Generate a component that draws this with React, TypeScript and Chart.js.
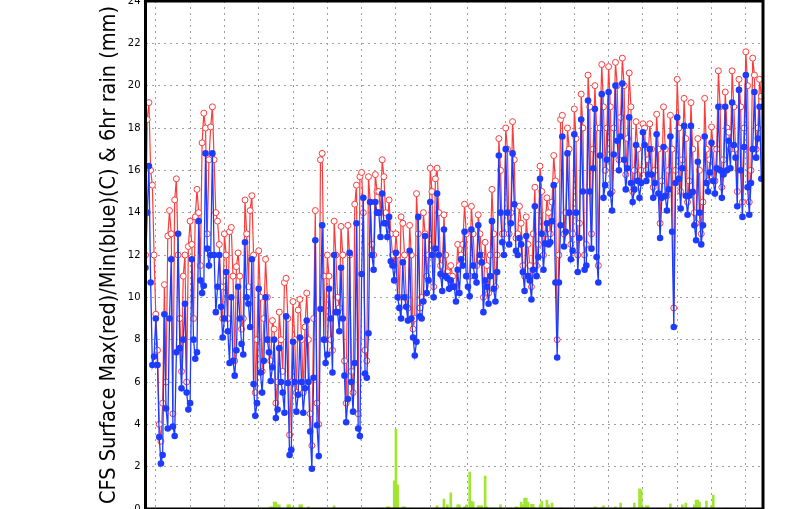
import React, { useEffect, useRef } from "react";
import { Chart, registerables } from "chart.js";

Chart.register(...registerables);

// 6-hourly values, 4 per day, 90 days
const maxTemp: number[] = [
  12.0, 18.4, 19.2, 16.0, 15.3, 12.0, 9.2, 7.5,
  4.0, 3.2, 5.0, 10.6, 6.0, 12.9, 14.1, 13.0,
  4.5, 14.6, 15.6, 12.0, 9.0, 6.5, 11.0, 12.0,
  6.0, 12.4, 13.6, 12.5, 9.0, 13.8, 15.1, 14.0,
  11.5, 17.3, 18.7, 18.0, 13.0, 16.5, 18.05, 19.0,
  16.5, 14.0, 13.6, 12.5, 10.5, 9.0, 13.0, 12.0,
  9.0, 13.1, 13.3, 11.0, 7.0, 11.45, 12.1, 11.0,
  8.5, 9.0, 14.6, 13.0, 10.5, 14.1, 14.8, 12.0,
  5.5, 8.0, 12.2, 10.0, 6.5, 9.0, 11.8, 10.0,
  8.0, 7.0, 8.9, 8.5, 5.0, 6.0, 9.3, 8.0,
  6.5, 10.7, 10.9, 9.0, 3.5, 6.0, 9.8, 8.0,
  5.5, 9.4, 9.9, 8.0, 5.5, 8.6, 10.2, 8.0,
  4.5, 3.0, 9.0, 14.1, 5.0, 4.0, 16.5, 16.8,
  11.0, 8.0, 12.0, 11.0, 8.0, 7.5, 13.6, 12.0,
  10.0, 9.5, 13.35, 12.0, 7.0, 5.0, 13.4, 12.0,
  6.5, 5.5, 14.4, 15.3, 4.5, 15.7, 15.9, 14.0,
  7.5, 7.0, 15.7, 14.5, 12.5, 12.0, 15.8, 15.0,
  15.0, 14.0, 16.5, 15.7, 14.0, 13.5, 14.6, 13.0,
  12.0, 11.5, 13.0, 12.0, 10.0, 13.8, 13.5, 12.0,
  10.0, 9.5, 13.4, 12.0, 8.5, 9.0, 14.9, 13.0,
  9.5, 10.0, 14.0, 13.0, 11.0, 12.0, 16.1, 15.0,
  10.5, 15.6, 16.1, 14.0, 11.5, 11.0, 13.9, 12.0,
  11.2, 11.0, 11.5, 11.0, 10.5, 10.5, 12.5, 11.5,
  12.0, 12.5, 14.4, 13.0, 11.0, 11.0, 14.3, 13.0,
  11.5, 11.5, 13.9, 13.0, 12.0, 10.0, 12.6, 11.5,
  10.2, 12.0, 15.1, 13.0, 10.5, 12.0, 17.5, 16.0,
  13.0, 13.0, 18.0, 17.0, 13.0, 14.0, 18.3, 16.5,
  12.8, 13.0, 14.3, 13.5, 11.5, 11.0, 13.8, 12.5,
  11.5, 10.5, 13.0, 15.2, 11.5, 12.5, 16.2, 15.0,
  12.0, 13.0, 14.7, 14.0, 13.0, 14.5, 16.7, 15.5,
  8.0, 12.0, 18.4, 18.6, 13.0, 14.0, 18.0, 17.0,
  12.5, 13.0, 18.9, 17.5, 12.0, 13.5, 19.6, 18.0,
  12.0, 12.5, 20.5, 19.0, 13.0, 17.0, 20.0, 18.0,
  11.5, 18.0, 21.0, 19.0, 16.0, 18.0, 20.9, 19.0,
  15.0, 18.0, 21.1, 20.0, 16.5, 18.5, 21.3, 20.0,
  15.8, 17.5, 20.6, 19.0, 15.0, 16.0, 18.3, 17.0,
  15.5, 16.0, 18.2, 18.0, 16.0, 16.5, 18.2, 17.0,
  15.2, 16.0, 18.65, 17.0, 13.5, 15.5, 19.0, 17.0,
  14.8, 16.0, 18.6, 17.0, 9.5, 16.0, 20.3, 18.0,
  15.0, 16.5, 19.4, 17.5, 14.5, 15.5, 19.2, 17.0,
  14.0, 13.5, 17.5, 16.0, 13.0, 14.5, 19.4, 17.0,
  15.5, 16.5, 18.05, 17.0, 15.5, 17.0, 20.7, 19.0,
  15.2, 16.5, 19.7, 18.0, 17.8, 17.0, 20.7, 19.0,
  17.0, 15.0, 20.3, 19.0, 14.5, 18.0, 21.6, 20.0,
  14.5, 16.0, 21.3, 20.5, 17.0, 18.0, 20.3, 19.5,
];

const minTemp: number[] = [
  11.4, 14.0, 16.2, 10.7, 6.8, 7.2, 9.0, 6.8,
  3.4, 2.15, 2.55, 9.2, 4.75, 3.8, 9.0, 11.8,
  3.9, 3.45, 7.4, 13.0, 7.6, 5.7, 8.0, 9.7,
  5.5, 4.7, 5.0, 11.8, 8.0, 7.1, 7.4, 13.6,
  10.8, 10.2, 10.55, 16.8, 12.3, 11.5, 12.0, 16.8,
  12.0, 9.3, 10.5, 12.0, 9.55, 8.1, 9.0, 11.2,
  8.4, 6.9, 10.0, 7.0, 6.3, 7.5, 10.5, 9.0,
  7.8, 7.3, 12.6, 10.0, 9.7, 8.6, 11.8, 5.9,
  4.4, 5.0, 10.4, 6.45, 5.5, 7.0, 10.0, 8.0,
  7.4, 6.05, 6.7, 8.0, 4.3, 4.7, 7.6, 6.0,
  5.5, 4.55, 9.1, 5.95, 2.55, 2.8, 7.9, 6.0,
  4.6, 5.4, 8.1, 6.0, 4.55, 5.7, 8.9, 6.0,
  3.66, 1.9, 6.2, 12.7, 3.96, 2.5, 9.45, 13.4,
  8.0, 6.9, 7.3, 10.4, 9.0, 6.45, 12.0, 9.3,
  9.3, 8.4, 11.4, 9.0, 6.3, 4.1, 5.2, 12.1,
  6.0, 4.6, 6.9, 13.5, 3.8, 3.45, 11.1, 14.7,
  6.4, 6.2, 8.3, 14.5, 12.0, 11.3, 14.5, 14.0,
  14.0, 12.85, 14.9, 13.5, 13.5, 12.85, 13.8, 11.7,
  11.5, 10.8, 12.1, 10.0, 9.5, 9.0, 11.65, 10.0,
  9.55, 8.9, 12.2, 9.0, 8.1, 7.25, 7.9, 13.8,
  9.1, 9.0, 9.8, 12.9, 10.2, 10.8, 14.5, 12.0,
  10.0, 12.3, 14.9, 12.0, 11.1, 10.3, 13.2, 11.0,
  10.9, 10.4, 10.8, 10.5, 10.5, 9.8, 11.3, 10.2,
  11.8, 11.5, 13.1, 11.0, 10.5, 10.05, 13.2, 11.5,
  11.0, 10.7, 13.4, 12.0, 11.65, 9.3, 10.8, 10.5,
  9.7, 11.0, 13.6, 10.4, 9.8, 11.2, 16.7, 14.0,
  12.6, 12.0, 17.0, 14.0, 12.5, 13.5, 16.8, 14.4,
  12.2, 12.0, 12.8, 12.5, 11.2, 10.3, 12.9, 11.0,
  10.8, 9.9, 11.3, 14.3, 11.0, 11.9, 15.6, 13.0,
  11.3, 12.55, 13.5, 12.5, 12.6, 13.6, 15.3, 10.7,
  7.16, 10.7, 13.4, 17.6, 12.4, 13.1, 16.8, 14.0,
  11.8, 12.2, 17.7, 14.0, 11.2, 12.8, 18.4, 15.0,
  11.3, 11.5, 19.3, 15.0, 12.3, 16.1, 18.9, 11.9,
  10.7, 16.7, 19.6, 14.7, 15.3, 16.5, 19.7, 14.9,
  14.1, 16.75, 20.0, 17.4, 16.0, 17.6, 20.1, 16.5,
  15.1, 16.1, 18.5, 15.4, 14.5, 15.1, 17.2, 15.5,
  14.7, 15.4, 17.8, 17.2, 15.5, 15.8, 17.0, 15.8,
  14.7, 15.4, 17.7, 14.9, 12.8, 14.7, 17.1, 14.8,
  14.1, 15.1, 17.6, 13.1, 8.6, 15.4, 18.5, 15.6,
  14.2, 16.1, 18.1, 14.8, 13.9, 14.8, 18.1, 14.98,
  13.4, 12.7, 16.4, 14.0, 12.5, 13.4, 17.6, 15.4,
  15.0, 15.9, 17.3, 15.5, 14.9, 16.1, 19.0, 16.0,
  14.7, 15.8, 19.0, 16.0, 17.4, 16.1, 19.2, 17.2,
  16.6, 14.3, 19.8, 16.0, 13.8, 17.1, 20.5, 15.2,
  13.9, 15.4, 17.0, 19.7, 16.6, 17.5, 19.0, 15.6,
];

// 6hr rain: time step index and amount (mm); all other steps are dry
const rainSteps: number[] = [
  66, 71, 72, 73, 74, 75, 76, 77, 78, 83, 84, 86, 90, 91, 95, 103, 109, 110,
  134, 137, 138, 141, 142, 145, 146, 147, 148, 150, 151, 153, 154, 162, 169, 170,
  174, 176, 178, 182, 183, 186, 187, 189, 190, 191, 194, 195, 196, 198, 199, 202,
  207, 211, 213, 216, 217, 219, 220, 221, 222, 223, 225, 226, 227, 230, 231, 234,
  235, 237, 242, 262, 263, 266, 267, 274, 277, 283, 285, 287, 288, 289, 290, 291,
  292, 293, 302, 306, 310, 313, 315, 320, 321, 322, 323, 326, 327, 330, 331, 334,
  339, 349, 357,
];
const rainMm: number[] = [
  0.04, 0.04, 0.04, 0.1, 0.1, 0.33, 0.33, 0.2, 0.2, 0.2, 0.2, 0.1, 0.2, 0.2, 0.1, 0.04, 0.04, 0.15,
  0.04, 0.04, 0.04, 0.1, 0.1, 1.33, 3.77, 1.14, 0.04, 0.1, 0.1, 0.04, 0.04, 0.04, 0.04, 0.15,
  0.47, 0.2, 0.76, 0.2, 0.2, 0.1, 0.2, 1.75, 0.37, 0.33, 0.15, 0.15, 0.15, 1.56, 0.1, 0.04,
  0.2, 0.04, 0.04, 0.1, 0.08, 0.33, 0.2, 0.52, 0.52, 0.33, 0.22, 0.22, 0.05, 0.2, 0.37, 0.42,
  0.2, 0.28, 0.05, 0.1, 0.05, 0.05, 0.15, 0.1, 0.28, 0.05, 0.28, 0.05, 0.95, 0.9, 0.1, 0.05,
  0.15, 0.15, 0.04, 0.24, 0.04, 0.2, 0.28, 0.2, 0.42, 0.42, 0.33, 0.04, 0.37, 0.15, 0.66, 0.04,
  0.04, 0.04, 0.04,
];

// vertical grid positions (time steps; day 1, 6, 11, 16, 21, 26 of each month)
const gridSteps: number[] = [16, 36, 56, 76, 96, 116, 136, 156, 176, 200, 220, 240, 260, 280, 300, 320, 340];
const yTicks: number[] = [0, 2, 4, 6, 8, 10, 12, 14, 16, 18, 20, 22, 24];

const yTitle = "CFS Surface Max(red)/Min(blue)(C) & 6hr rain (mm)";

const RED = "#fa3c3c";
const BLUE = "#1e3cff";
const GREEN = "#a0e632";
const GRID = "#a0a0a0";

const framePlugin = {
  id: "frame",
  afterDraw(chart: any) {
    const { ctx, chartArea } = chart;
    const { left, right, top, bottom } = chartArea;
    ctx.save();
    ctx.strokeStyle = "#000000";
    ctx.lineWidth = 3;
    ctx.strokeRect(left, top, right - left, bottom - top);
    // y-axis title, fitted to the reference length
    ctx.translate(109, (top + bottom) / 2);
    ctx.rotate(-Math.PI / 2);
    ctx.font = '22px "DejaVu Sans"';
    ctx.fillStyle = "#000000";
    ctx.textAlign = "center";
    ctx.textBaseline = "middle";
    const w = ctx.measureText(yTitle).width;
    ctx.scale(498 / w, 1);
    ctx.fillText(yTitle, 0, 0);
    ctx.restore();
  },
};

export default function App() {
  const ref = useRef<HTMLCanvasElement | null>(null);

  useEffect(() => {
    document.body.style.margin = "0";
    document.documentElement.style.overflow = "hidden";
    const canvas = ref.current;
    if (!canvas) return;

    const maxPts = maxTemp.map((v, i) => ({ x: i, y: v }));
    const minPts = minTemp.map((v, i) => ({ x: i, y: v }));
    const rainPts = rainSteps.map((s, i) => ({ x: s, y: rainMm[i] }));

    const chart = new Chart(canvas, {
      type: "line",
      data: {
        datasets: [
          {
            type: "line",
            label: "Min",
            data: minPts,
            borderColor: BLUE,
            borderWidth: 1.3,
            pointRadius: 3.3,
            pointBorderWidth: 0,
            pointBackgroundColor: BLUE,
            pointBorderColor: BLUE,
            tension: 0,
            order: 1,
          } as any,
          {
            type: "line",
            label: "Max",
            data: maxPts,
            borderColor: RED,
            borderWidth: 1.2,
            pointRadius: 3,
            pointBorderWidth: 1,
            pointBackgroundColor: "#ffffff",
            pointBorderColor: RED,
            tension: 0,
            order: 2,
          } as any,
          {
            type: "bar",
            label: "Rain",
            data: rainPts,
            backgroundColor: GREEN,
            borderWidth: 0,
            barThickness: 2,
            order: 3,
          } as any,
        ],
      },
      options: {
        responsive: false,
        animation: false,
        events: [],
        layout: {
          autoPadding: false,
          padding: { left: 0, right: 37, top: 1, bottom: 0 },
        },
        plugins: {
          legend: { display: false },
          tooltip: { enabled: false },
          title: { display: false },
        },
        scales: {
          x: {
            type: "linear",
            min: 0,
            max: 360,
            offset: false,
            afterBuildTicks: (scale: any) => {
              scale.ticks = gridSteps.map((v) => ({ value: v }));
            },
            afterFit: (scale: any) => {
              scale.height = 0;
              scale.paddingLeft = 0;
              scale.paddingRight = 0;
              scale.paddingTop = 0;
              scale.paddingBottom = 0;
            },
            ticks: { display: false },
            grid: { color: GRID, lineWidth: 1, drawTicks: false },
            border: { display: false, dash: [2, 4] },
          },
          y: {
            type: "linear",
            min: 0,
            max: 24,
            afterBuildTicks: (scale: any) => {
              scale.ticks = yTicks.map((v) => ({ value: v }));
            },
            afterFit: (scale: any) => {
              scale.width = 145.5;
              scale.paddingLeft = 0;
              scale.paddingRight = 0;
              scale.paddingTop = 0;
              scale.paddingBottom = 0;
            },
            ticks: {
              color: "#000000",
              font: { family: '"DejaVu Sans"', size: 10 },
              padding: 5,
            },
            grid: { color: GRID, lineWidth: 1, drawTicks: false },
            border: { display: false, dash: [2, 4] },
          },
        },
      },
      plugins: [framePlugin],
    } as any);

    return () => {
      chart.destroy();
    };
  }, []);

  return (
    <div style={{ width: 800, height: 509, background: "#ffffff" }}>
      <canvas ref={ref} width={800} height={509} style={{ width: 800, height: 509, display: "block" }} />
    </div>
  );
}
